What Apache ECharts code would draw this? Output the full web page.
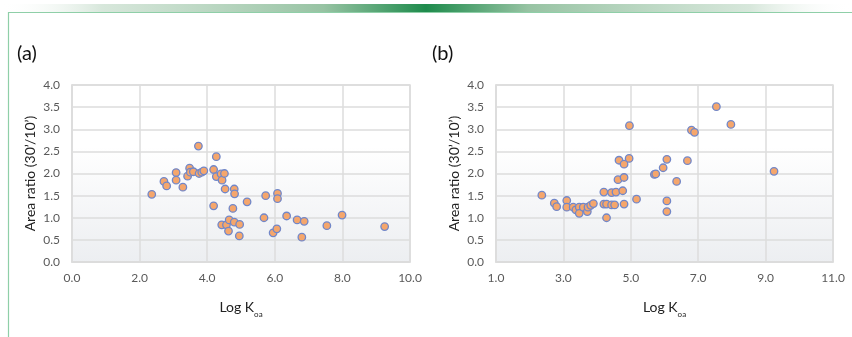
<!DOCTYPE html>
<html>
<head>
<meta charset="utf-8">
<script src="https://cdn.jsdelivr.net/npm/echarts@6/dist/echarts.min.js"></script>
<style>
  html, body { margin: 0; padding: 0; background: #ffffff; }
  #chart { width: 852px; height: 337px; }
</style>
</head>
<body>
<div id="chart"></div>
<script>
// Panel (a): Log Koa vs. area ratio (30'/10')
const logKoaA = [2.36, 2.72, 2.80, 3.08, 3.08, 3.28, 3.42, 3.48, 3.50, 3.59, 3.74, 3.76, 3.84, 3.90,
  4.19, 4.19, 4.27, 4.27, 4.41, 4.43, 4.44, 4.51, 4.53, 4.57, 4.63, 4.65, 4.76, 4.80, 4.80, 4.81,
  4.95, 4.96, 5.18, 5.68, 5.73, 5.95, 6.06, 6.08, 6.08, 6.35, 6.66, 6.80, 6.87, 7.54, 7.99, 9.25];
const ratioA = [1.53, 1.82, 1.72, 2.02, 1.85, 1.69, 1.94, 2.12, 2.03, 2.04, 2.62, 2.00, 2.03, 2.06,
  2.09, 1.27, 2.38, 1.93, 1.99, 0.84, 1.85, 2.00, 1.65, 0.84, 0.70, 0.95, 1.21, 1.65, 0.90, 1.54,
  0.59, 0.85, 1.36, 1.00, 1.50, 0.66, 0.75, 1.55, 1.43, 1.04, 0.95, 0.56, 0.92, 0.82, 1.06, 0.80];

// Panel (b)
const logKoaB = [2.36, 2.73, 2.80, 3.10, 3.10, 3.29, 3.37, 3.47, 3.47, 3.59, 3.71, 3.73, 3.81, 3.89,
  4.20, 4.20, 4.28, 4.28, 4.43, 4.43, 4.52, 4.56, 4.62, 4.65, 4.76, 4.80, 4.80, 4.80, 4.95, 4.96,
  5.17, 5.70, 5.74, 5.96, 6.07, 6.07, 6.07, 6.36, 6.68, 6.80, 6.89, 7.54, 7.97, 9.25];
const ratioB = [1.51, 1.33, 1.25, 1.39, 1.24, 1.24, 1.18, 1.24, 1.10, 1.24, 1.14, 1.24, 1.28, 1.32,
  1.58, 1.31, 1.31, 1.00, 1.57, 1.29, 1.29, 1.58, 1.86, 2.30, 1.61, 1.31, 2.21, 1.91, 2.34, 3.08,
  1.42, 1.98, 1.99, 2.13, 2.32, 1.38, 1.14, 1.82, 2.29, 2.98, 2.93, 3.51, 3.11, 2.05];

// Axis ranges and tick steps
const xAxisA = { min: 0, max: 10, step: 2 };
const xAxisB = { min: 1, max: 11, step: 2 };
const yAxisAB = { min: 0, max: 4, step: 0.5 };
const panelLabels = ['(a)', '(b)'];
const xTitle = 'Log K{sub|oa}';
const yTitle = 'Area ratio (30\u2019/10\u2019)';

const FONT = 'Lato, "Open Sans", sans-serif';
const gridLine = '#dcdcdc';
const plotFill = {
  type: 'linear', x: 0, y: 0, x2: 0, y2: 1,
  colorStops: [
    { offset: 0, color: '#ffffff' },
    { offset: 0.35, color: '#ffffff' },
    { offset: 1, color: '#eceef1' }
  ]
};

function pairs(xs, ys) {
  return xs.map((x, i) => [x, ys[i]]);
}

function makeX(idx, ax) {
  return {
    type: 'value', gridIndex: idx, min: ax.min, max: ax.max, interval: ax.step,
    name: xTitle, nameLocation: 'middle', nameGap: 34,
    nameTextStyle: {
      fontFamily: FONT, fontSize: 14, color: '#222',
      rich: { sub: { fontFamily: FONT, fontSize: 8, color: '#222', verticalAlign: 'bottom', padding: [14, 0, 0, 0] } }
    },
    axisLine: { show: true, lineStyle: { color: gridLine, width: 1.5 } },
    axisTick: { show: false },
    axisLabel: { fontFamily: FONT, fontSize: 12, color: '#595959', margin: 10,
      formatter: v => v.toFixed(1) },
    splitLine: { show: true, lineStyle: { color: gridLine, width: 1.5 } }
  };
}

function makeY(idx, ax) {
  return {
    type: 'value', gridIndex: idx, min: ax.min, max: ax.max, interval: ax.step,
    name: yTitle, nameLocation: 'middle', nameGap: 35, nameRotate: 90,
    nameTextStyle: { fontFamily: FONT, fontSize: 14, color: '#222' },
    axisLine: { show: true, lineStyle: { color: gridLine, width: 1.5 } },
    axisTick: { show: false },
    axisLabel: { fontFamily: FONT, fontSize: 12, color: '#595959', margin: 12,
      formatter: v => v.toFixed(1) },
    splitLine: { show: true, lineStyle: { color: gridLine, width: 1.5 } }
  };
}

function makeSeries(idx, data) {
  return {
    type: 'scatter', xAxisIndex: idx, yAxisIndex: idx, data: data,
    symbol: 'circle', symbolSize: 7.5,
    itemStyle: { color: '#f5a66c', borderColor: '#7187c9', borderWidth: 1.3, opacity: 1 },
    emphasis: { disabled: true }
  };
}

const chart = echarts.init(document.getElementById('chart'), null, { renderer: 'canvas' });
chart.setOption({
  animation: false,
  backgroundColor: '#ffffff',
  grid: [
    { left: 72, top: 85, width: 338, height: 177, show: true, backgroundColor: plotFill,
      borderColor: gridLine, borderWidth: 1.5 },
    { left: 496, top: 85, width: 337, height: 177, show: true, backgroundColor: plotFill,
      borderColor: gridLine, borderWidth: 1.5 }
  ],
  xAxis: [makeX(0, xAxisA), makeX(1, xAxisB)],
  yAxis: [makeY(0, yAxisAB), makeY(1, yAxisAB)],
  series: [makeSeries(0, pairs(logKoaA, ratioA)), makeSeries(1, pairs(logKoaB, ratioB))],
  graphic: [
    // page frame: soft green band on top, thin green rules
    { type: 'rect', silent: true, shape: { x: 0, y: 4, width: 852, height: 8 },
      style: { fill: { type: 'linear', x: 0, y: 0, x2: 1, y2: 0, colorStops: [
        { offset: 0, color: 'rgba(255,255,255,0)' },
        { offset: 0.12, color: 'rgba(205,225,210,0.8)' },
        { offset: 0.38, color: '#97c3a3' },
        { offset: 0.5, color: '#1e8b4c' },
        { offset: 0.62, color: '#97c3a3' },
        { offset: 0.88, color: 'rgba(205,225,210,0.8)' },
        { offset: 1, color: 'rgba(255,255,255,0)' }
      ] } } },
    { type: 'line', silent: true, shape: { x1: 8, y1: 12.5, x2: 852, y2: 12.5 },
      style: { stroke: '#8fcfa8', lineWidth: 1.2 } },
    { type: 'line', silent: true, shape: { x1: 8.5, y1: 12, x2: 8.5, y2: 337 },
      style: { stroke: '#8fcfa8', lineWidth: 1.2 } },
    { type: 'text', left: 17, top: 44,
      style: { text: panelLabels[0], fontFamily: FONT, fontSize: 20, fill: '#111' } },
    { type: 'text', left: 432, top: 44,
      style: { text: panelLabels[1], fontFamily: FONT, fontSize: 20, fill: '#111' } }
  ]
});
</script>
</body>
</html>
